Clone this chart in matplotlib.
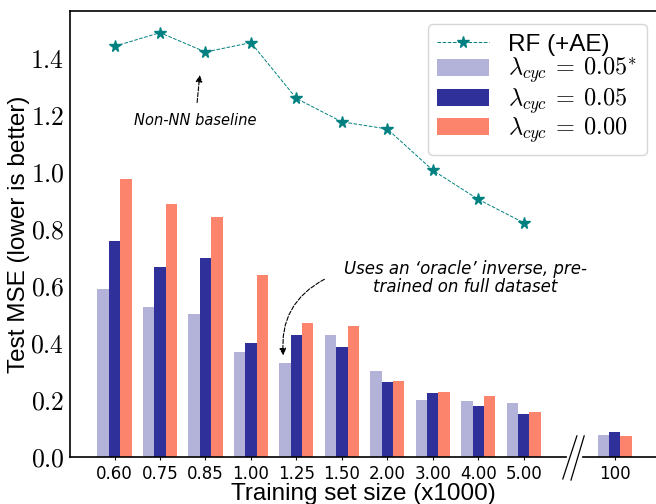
import matplotlib
matplotlib.use('Agg')
import matplotlib.pyplot as plt
import numpy as np

plt.rcParams['mathtext.fontset'] = 'cm'
plt.rcParams['font.family'] = ['Liberation Sans', 'DejaVu Sans']

# ---- data ----
sizes = ['0.60', '0.75', '0.85', '1.00', '1.25', '1.50', '2.00', '3.00', '4.00', '5.00', '100']
pos = [0, 1, 2, 3, 4, 5, 6, 7, 8, 9, 11]

rf_ae = [1.441, 1.489, 1.421, 1.454, 1.258, 1.176, 1.151, 1.006, 0.904, 0.822]

cyc_oracle = [0.589, 0.526, 0.503, 0.368, 0.330, 0.428, 0.302, 0.200, 0.196, 0.189, 0.077]
cyc_005 = [0.758, 0.667, 0.699, 0.400, 0.428, 0.386, 0.263, 0.224, 0.179, 0.151, 0.088]
cyc_000 = [0.975, 0.888, 0.842, 0.638, 0.470, 0.459, 0.266, 0.228, 0.214, 0.158, 0.074]

yticks = [0.0, 0.2, 0.4, 0.6, 0.8, 1.0, 1.2, 1.4]

# ---- plot ----
fig = plt.figure(figsize=(6.56, 5.04), dpi=100)
ax = fig.add_axes([0.1067, 0.0933, 0.8933, 0.8849])

x = np.array(pos)
w = 0.25
ax.plot(x[:len(rf_ae)], rf_ae, color='teal', ls='--', lw=0.7, marker='*', ms=8.5,
        label='RF (+AE)', zorder=3)
ax.bar(x - w, cyc_oracle, w, color='#b3b3d9', label=r'$\lambda_{cyc} \:=\: 0.05^{*}$')
ax.bar(x, cyc_005, w, color='#30309a', label=r'$\lambda_{cyc} \:=\: 0.05$')
ax.bar(x + w, cyc_000, w, color='#fd846c', label=r'$\lambda_{cyc} \:=\: 0.00$')

ax.set_xlim(-0.98, 11.91)
ax.set_ylim(0, 1.565)
ax.set_xticks(pos)
ax.set_xticklabels(sizes, family='DejaVu Sans', fontsize=12)
ax.set_yticks(yticks)
ax.set_yticklabels([r'$%.1f$' % t for t in yticks], fontsize=18.5)
ax.tick_params(axis='x', length=2, pad=4)
ax.tick_params(axis='y', length=0, pad=4)

ax.set_xlabel('Training set size (x1000)', fontsize=17.5, labelpad=0)
ax.set_ylabel('Test MSE (lower is better)', fontsize=17.5, labelpad=0)

for s in ['right', 'bottom']:
    ax.spines[s].set_visible(False)
for s in ['left', 'top']:
    ax.spines[s].set_linewidth(1.2)

# broken bottom axis
ax.plot([-0.98, 9.93], [0, 0], color='black', lw=1.2, clip_on=False, zorder=4)
ax.plot([10.30, 11.91], [0, 0], color='black', lw=1.2, clip_on=False, zorder=4)
ax.plot([10.17, 9.86], [0.074, -0.077], color='black', lw=0.9, clip_on=False)
ax.plot([10.33, 10.04], [0.074, -0.081], color='black', lw=0.9, clip_on=False)

# annotations
ax.annotate('', xy=(1.88, 1.35), xytext=(1.81, 1.234),
            arrowprops=dict(arrowstyle='-|>', color='black', lw=0.8, ls='--',
                            mutation_scale=10))
ax.text(1.77, 1.18, 'Non-NN baseline', ha='center', va='center', fontsize=10.5,
        family='DejaVu Sans', style='italic')

ax.text(7.71, 0.628, 'Uses an \u2018oracle\u2019 inverse, pre-\ntrained on full dataset',
        ha='center', va='center', fontsize=12, family='DejaVu Sans', style='italic',
        linespacing=1.05)
ax.annotate('', xy=(3.72, 0.347), xytext=(4.67, 0.628),
            arrowprops=dict(arrowstyle='-|>', color='black', lw=0.8, ls='--',
                            mutation_scale=10, connectionstyle='arc3,rad=0.35'))

ax.legend(loc='upper right', bbox_to_anchor=(0.9846, 0.9709), borderaxespad=0,
          fontsize=17.5, handlelength=2.1, handletextpad=0.8, labelspacing=0.0,
          borderpad=0.4)

fig.savefig('out.png', dpi=100)
